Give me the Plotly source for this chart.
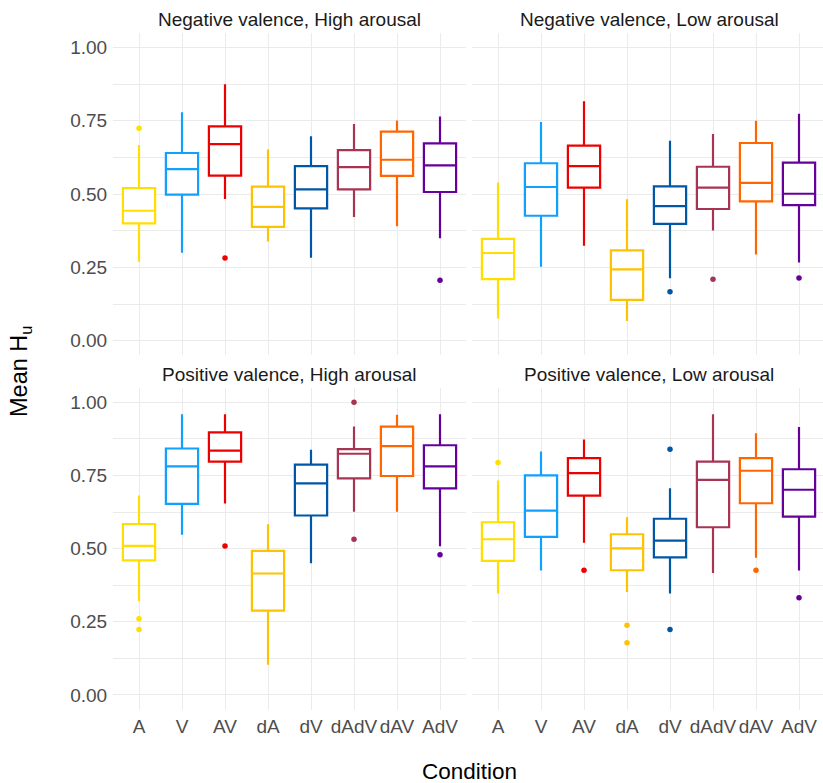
import plotly.graph_objects as go
from plotly.subplots import make_subplots

conditions = ["A", "V", "AV", "dA", "dV", "dAdV", "dAV", "AdV"]
colors = ["#FFDF00", "#12A0FF", "#EE0000", "#FFC200", "#0057A6", "#A83454", "#FF6600", "#66009A"]

panel_titles = ["Negative valence, High arousal", "Negative valence, Low arousal",
                "Positive valence, High arousal", "Positive valence, Low arousal"]

# Negative valence, High arousal
nh_lo = [0.269, 0.300, 0.483, 0.338, 0.283, 0.422, 0.390, 0.349]
nh_q1 = [0.400, 0.498, 0.563, 0.388, 0.451, 0.516, 0.562, 0.507]
nh_med = [0.443, 0.585, 0.670, 0.456, 0.516, 0.592, 0.617, 0.598]
nh_q3 = [0.520, 0.640, 0.731, 0.525, 0.595, 0.650, 0.713, 0.673]
nh_hi = [0.667, 0.779, 0.874, 0.652, 0.697, 0.739, 0.751, 0.764]
nh_out_cond = ["A", "AV", "AdV"]
nh_out_val = [0.724, 0.282, 0.206]

# Negative valence, Low arousal
nl_lo = [0.076, 0.252, 0.324, 0.067, 0.213, 0.376, 0.294, 0.267]
nl_q1 = [0.210, 0.426, 0.522, 0.139, 0.398, 0.449, 0.475, 0.462]
nl_med = [0.299, 0.524, 0.595, 0.243, 0.459, 0.522, 0.538, 0.501]
nl_q3 = [0.347, 0.605, 0.665, 0.308, 0.526, 0.593, 0.674, 0.607]
nl_hi = [0.539, 0.746, 0.816, 0.482, 0.682, 0.705, 0.750, 0.774]
nl_out_cond = ["dV", "dAdV", "AdV"]
nl_out_val = [0.167, 0.210, 0.214]

# Positive valence, High arousal
ph_lo = [0.320, 0.547, 0.654, 0.103, 0.450, 0.626, 0.626, 0.508]
ph_q1 = [0.460, 0.653, 0.797, 0.288, 0.613, 0.740, 0.748, 0.706]
ph_med = [0.509, 0.781, 0.835, 0.415, 0.723, 0.824, 0.850, 0.781]
ph_q3 = [0.584, 0.842, 0.897, 0.492, 0.787, 0.840, 0.917, 0.853]
ph_hi = [0.681, 0.959, 0.959, 0.583, 0.838, 0.917, 0.957, 0.959]
ph_out_cond = ["A", "A", "AV", "dAdV", "dAdV", "AdV"]
ph_out_val = [0.260, 0.224, 0.509, 1.000, 0.532, 0.479]

# Positive valence, Low arousal
pl_lo = [0.347, 0.425, 0.520, 0.352, 0.347, 0.417, 0.469, 0.425]
pl_q1 = [0.458, 0.540, 0.681, 0.426, 0.470, 0.573, 0.655, 0.609]
pl_med = [0.532, 0.630, 0.758, 0.501, 0.527, 0.735, 0.766, 0.701]
pl_q3 = [0.590, 0.750, 0.809, 0.549, 0.602, 0.797, 0.809, 0.771]
pl_hi = [0.733, 0.832, 0.873, 0.607, 0.706, 0.959, 0.894, 0.915]
pl_out_cond = ["A", "AV", "dA", "dA", "dV", "dV", "dAV", "AdV"]
pl_out_val = [0.794, 0.426, 0.238, 0.178, 0.839, 0.224, 0.426, 0.332]

panels = [
    (1, 1, nh_lo, nh_q1, nh_med, nh_q3, nh_hi, nh_out_cond, nh_out_val),
    (1, 2, nl_lo, nl_q1, nl_med, nl_q3, nl_hi, nl_out_cond, nl_out_val),
    (2, 1, ph_lo, ph_q1, ph_med, ph_q3, ph_hi, ph_out_cond, ph_out_val),
    (2, 2, pl_lo, pl_q1, pl_med, pl_q3, pl_hi, pl_out_cond, pl_out_val),
]

FONT = "Liberation Sans, Arial, Helvetica, sans-serif"
W, H = 823, 783
TICK_SIZE = 19

fig = make_subplots(rows=2, cols=2)

color_of = dict(zip(conditions, colors))
for (r, c, lo, q1, med, q3, hi, oc, ov) in panels:
    for i, cond in enumerate(conditions):
        fig.add_trace(go.Box(
            x=[cond], q1=[q1[i]], median=[med[i]], q3=[q3[i]],
            lowerfence=[lo[i]], upperfence=[hi[i]],
            boxpoints=False, width=0.75, whiskerwidth=0,
            line=dict(color=colors[i], width=2.2), fillcolor="white",
            showlegend=False, hoverinfo="skip"), row=r, col=c)
    fig.add_trace(go.Scatter(
        x=oc, y=ov, mode="markers",
        marker=dict(color=[color_of[k] for k in oc], size=5.5),
        showlegend=False, hoverinfo="skip", cliponaxis=False), row=r, col=c)

# panel geometry (pixels)
left_x = (113.2, 465.8)
right_x = (472.2, 823.0)
top_y = (32.7, 355.4)
bot_y = (387.6, 709.6)

def xd(p):
    return [p[0] / W, min(p[1] / W, 1.0)]

def yd(p):
    return [1 - p[1] / H, 1 - p[0] / H]

px_per_unit = (left_x[1] - left_x[0]) / 8.2
right_range_end = -0.6 + (right_x[1] - right_x[0]) / px_per_unit

axis_common = dict(showline=False, zeroline=False, ticks="",
                   gridcolor="#EBEBEB", gridwidth=1.1)

for r in (1, 2):
    for c in (1, 2):
        xr = [-0.6, 7.6] if c == 1 else [-0.6, right_range_end]
        fig.update_xaxes(type="category", categoryorder="array", categoryarray=conditions,
                         range=xr, domain=xd(left_x if c == 1 else right_x),
                         showticklabels=(r == 2),
                         tickfont=dict(family=FONT, size=TICK_SIZE, color="#4D4D4D"),
                         ticklabelstandoff=3,
                         row=r, col=c, **axis_common)
        fig.update_yaxes(range=[-0.05, 1.05], tickvals=[0, 0.25, 0.5, 0.75, 1.0],
                         tickformat=".2f", domain=yd(top_y if r == 1 else bot_y),
                         showticklabels=(c == 1),
                         tickfont=dict(family=FONT, size=TICK_SIZE, color="#4D4D4D"),
                         ticklabelstandoff=5,
                         minor=dict(tickvals=[0.125, 0.375, 0.625, 0.875], showgrid=True,
                                    gridcolor="#EBEBEB", gridwidth=0.6, ticks=""),
                         row=r, col=c, **axis_common)

annotations = []
centers = [((left_x[0] + left_x[1]) / 2, top_y[0]), ((472.2 + 825.8) / 2, top_y[0]),
           ((left_x[0] + left_x[1]) / 2, bot_y[0]), ((472.2 + 825.8) / 2, bot_y[0])]
for t, (cx, ty) in zip(panel_titles, centers):
    annotations.append(dict(text=t, x=cx / W, y=1 - (ty - 13) / H, xref="paper", yref="paper",
                            showarrow=False, xanchor="center", yanchor="middle",
                            font=dict(family=FONT, size=TICK_SIZE, color="#1A1A1A")))
annotations.append(dict(text="Condition", x=(113.2 + 825.8) / 2 / W, y=1 - 771 / H,
                        xref="paper", yref="paper", showarrow=False,
                        xanchor="center", yanchor="middle",
                        font=dict(family=FONT, size=22.5, color="black")))
annotations.append(dict(text="Mean H<sub>u</sub>", x=20 / W, y=1 - 372 / H,
                        xref="paper", yref="paper", showarrow=False, textangle=-90,
                        xanchor="center", yanchor="middle",
                        font=dict(family=FONT, size=23.5, color="black")))

fig.update_layout(width=W, height=H, margin=dict(l=0, r=0, t=0, b=0),
                  paper_bgcolor="white", plot_bgcolor="white",
                  boxmode="overlay", annotations=annotations,
                  font=dict(family=FONT))

fig.write_html("out.html")
